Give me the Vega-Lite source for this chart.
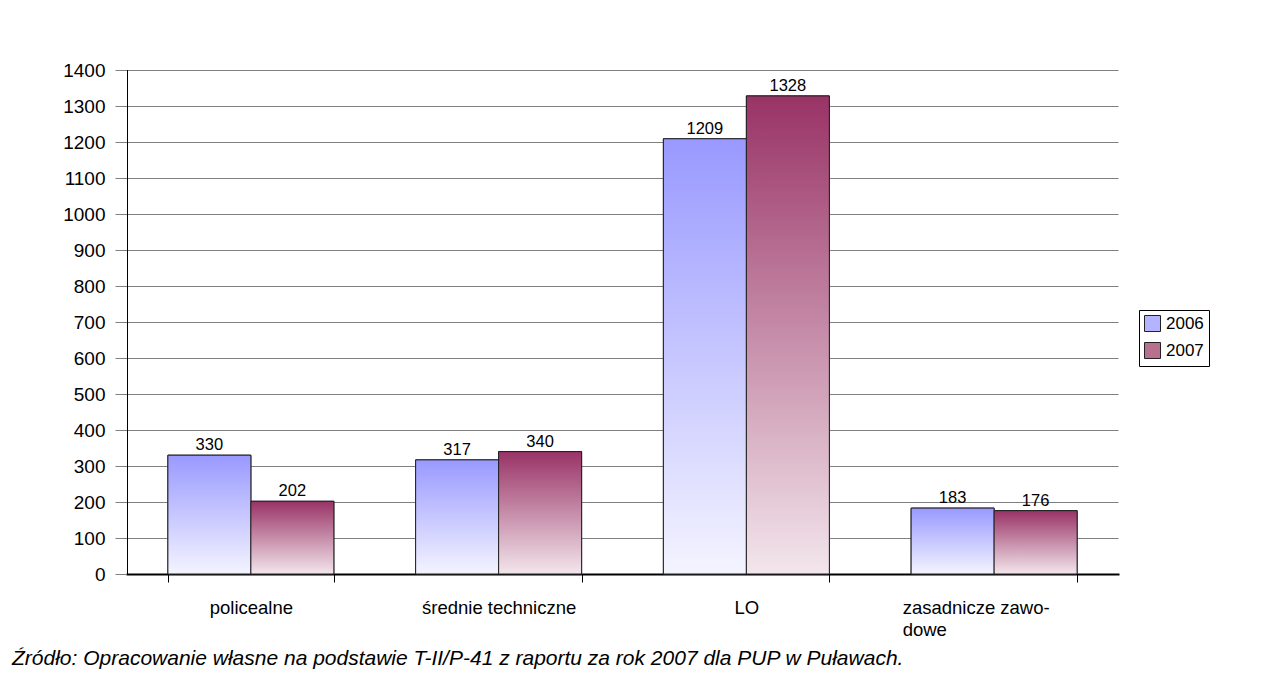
{
  "$schema": "https://vega.github.io/schema/vega-lite/v6.json",
  "width": 991,
  "height": 504,
  "autosize": {"type": "none"},
  "padding": {"left": 127, "top": 70, "right": 147, "bottom": 101},
  "background": "white",
  "title": {
    "text": "Źródło: Opracowanie własne na podstawie T-II/P-41 z raportu za rok 2007 dla PUP w Puławach.",
    "orient": "bottom",
    "anchor": "start",
    "frame": "group",
    "font": "Liberation Sans",
    "fontSize": 21,
    "fontStyle": "italic",
    "fontWeight": "normal",
    "color": "black",
    "offset": 9,
    "dx": -115
  },
  "data": {
    "values": [
      {"kategoria": "policealne", "rok": "2006", "wartosc": 330},
      {"kategoria": "policealne", "rok": "2007", "wartosc": 202},
      {"kategoria": "średnie techniczne", "rok": "2006", "wartosc": 317},
      {"kategoria": "średnie techniczne", "rok": "2007", "wartosc": 340},
      {"kategoria": "LO", "rok": "2006", "wartosc": 1209},
      {"kategoria": "LO", "rok": "2007", "wartosc": 1328},
      {"kategoria": "zasadnicze zawodowe", "rok": "2006", "wartosc": 183},
      {"kategoria": "zasadnicze zawodowe", "rok": "2007", "wartosc": 176}
    ]
  },
  "encoding": {
    "x": {
      "field": "kategoria",
      "type": "nominal",
      "sort": null,
      "scale": {"paddingInner": 0.33, "paddingOuter": 0.165},
      "axis": {
        "title": null,
        "labelAngle": 0,
        "labelFont": "Liberation Sans",
        "labelFontSize": 18.5,
        "labelColor": "black",
        "labelPadding": 16,
        "labelExpr": "datum.label == 'zasadnicze zawodowe' ? ['zasadnicze zawo-', 'dowe'] : datum.label",
        "labelAlign": {"condition": {"test": "datum.label == 'zasadnicze zawodowe'", "value": "left"}, "value": "center"},
        "labelOffset": {"condition": {"test": "datum.label == 'zasadnicze zawodowe'", "value": -92}, "value": 0},
        "labelLineHeight": 22,
        "tickBand": "extent",
        "tickColor": "black",
        "tickSize": 8,
        "domainColor": "black",
        "domainWidth": 2,
        "grid": false
      }
    },
    "xOffset": {"field": "rok", "type": "nominal", "scale": {"paddingInner": 0, "paddingOuter": 0}},
    "y": {
      "field": "wartosc",
      "type": "quantitative",
      "scale": {"domain": [0, 1400], "nice": false},
      "axis": {
        "title": null,
        "format": "d",
        "values": [0, 100, 200, 300, 400, 500, 600, 700, 800, 900, 1000, 1100, 1200, 1300, 1400],
        "labelFont": "Liberation Sans",
        "labelFontSize": 19,
        "labelColor": "black",
        "labelPadding": 10,
        "tickColor": "#808080",
        "tickSize": 12,
        "domainColor": "black",
        "gridColor": "#808080",
        "gridWidth": 1,
        "grid": true
      }
    }
  },
  "layer": [
    {
      "mark": {"type": "bar", "stroke": "#222222", "strokeWidth": 1},
      "encoding": {
        "fill": {
          "field": "rok",
          "type": "nominal",
          "scale": {"domain": ["2006", "2007"], "range": ["#b3b3ff", "#b8708f"]},
          "legend": {
            "title": null,
            "orient": "none",
            "legendX": 1012,
            "legendY": 240,
            "symbolType": "square",
            "symbolSize": 256,
            "symbolStrokeColor": "#222222",
            "symbolStrokeWidth": 1,
            "symbolOpacity": 1,
            "labelFont": "Liberation Sans",
            "labelFontSize": 17,
            "labelColor": "black",
            "strokeColor": "black",
            "padding": 5,
            "rowPadding": 6,
            "labelOffset": 5
          }
        }
      }
    },
    {
      "mark": {"type": "bar", "stroke": "#222222", "strokeWidth": 1},
      "encoding": {
        "fill": {
          "condition": {
            "test": "datum.rok == '2006'",
            "value": {"gradient": "linear", "x1": 0, "y1": 0, "x2": 0, "y2": 1, "stops": [{"offset": 0, "color": "#9999ff"}, {"offset": 1, "color": "#f4f4ff"}]}
          },
          "value": {"gradient": "linear", "x1": 0, "y1": 0, "x2": 0, "y2": 1, "stops": [{"offset": 0, "color": "#993366"}, {"offset": 1, "color": "#f3e6ec"}]}
        }
      }
    },
    {
      "mark": {"type": "text", "baseline": "bottom", "dy": -2, "font": "Liberation Sans", "fontSize": 16.5, "color": "black"},
      "encoding": {
        "text": {"field": "wartosc", "type": "quantitative"}
      }
    }
  ],
  "config": {
    "view": {"stroke": null},
    "axis": {"domainCap": "square"}
  }
}
